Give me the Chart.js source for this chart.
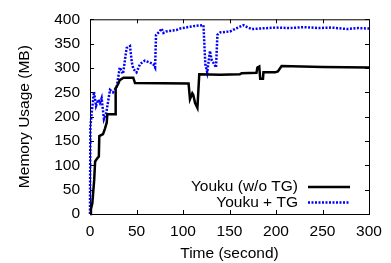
<!DOCTYPE html>
<html>
<head>
<meta charset="utf-8">
<script src="https://cdn.jsdelivr.net/npm/chart.js@4/dist/chart.umd.min.js"></script>
<style>
  html, body { margin: 0; padding: 0; background: #fff; }
  canvas { display: block; }
</style>
</head>
<body>
<canvas id="memChart" width="391" height="263"></canvas>
<script>
// Youku (w/o TG)
const plainTime = [0, 1, 2.5, 4.5, 5.5, 8, 9.5, 10, 14, 16, 18, 18.6, 27, 27.6, 30.5, 32, 36, 46.5, 48.4, 106, 107.5, 110, 111, 113, 115.5, 117.5, 140, 161, 163, 179, 180, 182, 183, 186, 186.5, 199, 202, 206, 250, 300];
const plainMem = [0, 10, 22, 70, 108, 115, 118, 160, 164, 175, 188, 205, 205, 258, 268, 275, 280, 280, 269, 268, 236, 248, 245, 228, 218, 287, 286, 287, 289, 290, 301, 303, 278, 278, 291, 291, 293, 304, 302, 301];

// Youku + TG
const tgTime = [0, 0.4, 1.8, 4.3, 6.5, 9, 10.7, 12.5, 15, 17.5, 21.5, 24.7, 28.7, 32, 35.5, 39.4, 43, 45, 46.6, 50, 53.8, 59, 63, 68, 70, 71, 75, 77, 79, 82, 93, 97, 111, 122, 124, 126, 129, 131, 132.6, 135.5, 137, 140, 150.5, 157, 165, 169, 174, 182, 200, 215, 230, 245, 260, 276, 288, 300];
const tgMem = [0, 178, 208, 251, 222, 235, 228, 238, 195, 208, 255, 250, 261, 301, 288, 341, 345, 311, 298, 291, 308, 315, 312, 308, 301, 368, 375, 381, 372, 375, 378, 381, 386, 388, 308, 291, 335, 315, 311, 301, 368, 373, 375, 381, 388, 384, 380, 381, 383, 382, 384, 382, 383, 380, 382, 381];

const seriesNames = ['Youku (w/o TG)', 'Youku + TG'];
const xTicks = [0, 50, 100, 150, 200, 250, 300];
const yTicks = [0, 50, 100, 150, 200, 250, 300, 350, 400];

const font = { family: "'Liberation Sans', Arial, sans-serif", size: 15.5 };

function toPoints(xs, ys) {
    return xs.map((x, i) => ({ x: x, y: ys[i] }));
}

// box round the plot with inward ticks on all four sides
const framePlugin = {
    id: 'frame',
    beforeDatasetsDraw(chart) {
        const { ctx, chartArea: a, scales } = chart;
        ctx.save();
        ctx.strokeStyle = '#000';
        ctx.lineWidth = 1;
        ctx.strokeRect(a.left + 0.5, a.top + 0.5, a.right - a.left, a.bottom - a.top);
        ctx.beginPath();
        xTicks.forEach(v => {
            const px = Math.round(scales.x.getPixelForValue(v)) + 0.5;
            ctx.moveTo(px, a.bottom);
            ctx.lineTo(px, a.bottom - 4);
            ctx.moveTo(px, a.top);
            ctx.lineTo(px, a.top + 4);
        });
        yTicks.forEach(v => {
            const py = Math.round(scales.y.getPixelForValue(v)) + 0.5;
            ctx.moveTo(a.left, py);
            ctx.lineTo(a.left + 4, py);
            ctx.moveTo(a.right, py);
            ctx.lineTo(a.right - 4, py);
        });
        ctx.stroke();
        ctx.restore();
    }
};

// gnuplot-style key: text right aligned, line sample after it
const keyPlugin = {
    id: 'key',
    afterDraw(chart) {
        const { ctx, chartArea: a } = chart;
        ctx.save();
        ctx.font = font.size + 'px ' + font.family;
        ctx.textAlign = 'right';
        ctx.textBaseline = 'middle';
        chart.data.datasets.forEach((ds, i) => {
            const y = a.bottom - 27 + i * 15.5;
            ctx.fillStyle = '#000';
            ctx.fillText(ds.label, a.right - 71, y);
            ctx.beginPath();
            ctx.strokeStyle = ds.borderColor;
            ctx.lineWidth = ds.borderWidth;
            ctx.setLineDash(ds.borderDash || []);
            ctx.moveTo(a.right - 61, y);
            ctx.lineTo(a.right - 19, y);
            ctx.stroke();
        });
        ctx.restore();
    }
};

new Chart(document.getElementById('memChart'), {
    type: 'line',
    data: {
        datasets: [{
            label: seriesNames[0],
            data: toPoints(plainTime, plainMem),
            borderColor: '#000000',
            borderWidth: 2.5,
            pointRadius: 0,
            tension: 0,
            clip: false
        }, {
            label: seriesNames[1],
            data: toPoints(tgTime, tgMem),
            borderColor: '#0000ff',
            borderWidth: 2.5,
            borderDash: [2, 1.5],
            pointRadius: 0,
            tension: 0,
            clip: false
        }]
    },
    options: {
        responsive: false,
        animation: false,
        devicePixelRatio: 1,
        layout: { padding: { left: 0, top: 14, right: 22, bottom: 0 } },
        plugins: {
            legend: { display: false },
            tooltip: { enabled: false }
        },
        scales: {
            x: {
                type: 'linear',
                min: 0,
                max: 300,
                afterBuildTicks: s => { s.ticks = xTicks.map(v => ({ value: v })); },
                afterFit: s => { s.height = 49; },
                ticks: { font: font, color: '#000', padding: 8, maxRotation: 0 },
                grid: { display: false, drawTicks: false },
                border: { display: false },
                title: { display: true, text: 'Time (second)', font: font, color: '#000', padding: { top: 0, bottom: 0 } }
            },
            y: {
                min: 0,
                max: 400,
                afterBuildTicks: s => { s.ticks = yTicks.map(v => ({ value: v })); },
                afterFit: s => { s.width = 90; },
                ticks: { font: font, color: '#000', padding: 10 },
                grid: { display: false, drawTicks: false },
                border: { display: false },
                title: { display: true, text: 'Memory Usage (MB)', font: font, color: '#000', padding: { top: 15, bottom: 0 } }
            }
        }
    },
    plugins: [framePlugin, keyPlugin]
});
</script>
</body>
</html>
